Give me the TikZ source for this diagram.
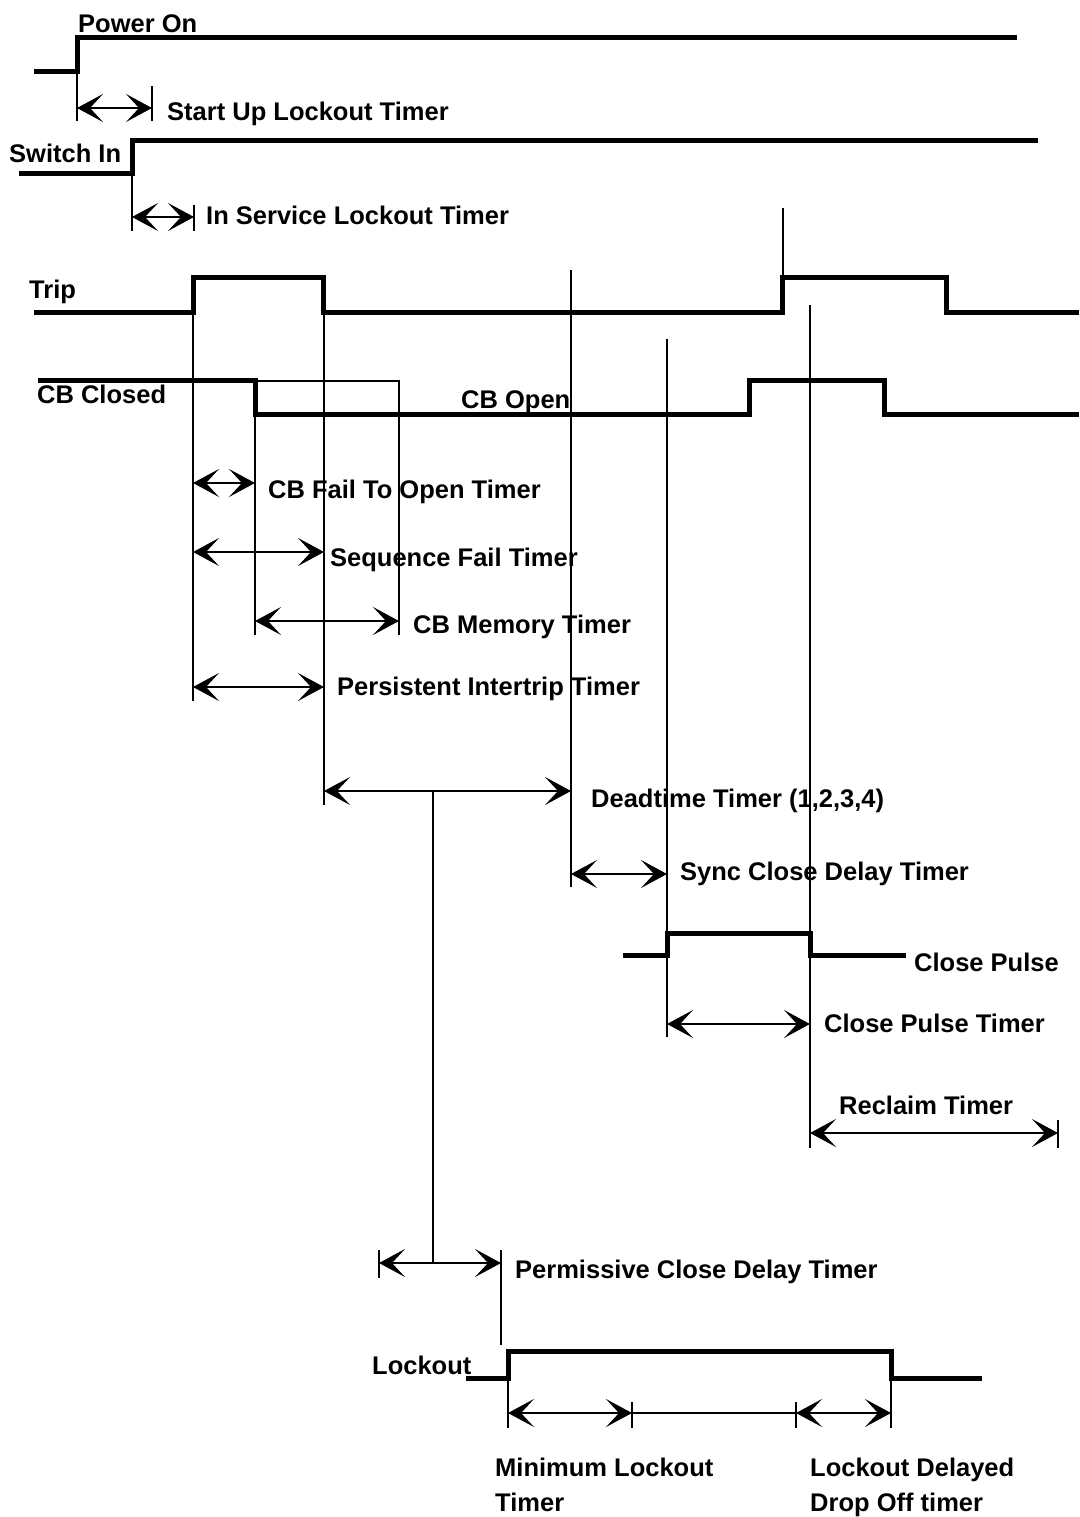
\documentclass[tikz,border=0pt]{standalone}
\usepackage{fontspec}
\setmainfont{Liberation Sans}
\usetikzlibrary{arrows.meta}
\begin{document}
\begin{tikzpicture}[x=1pt,y=-1pt,
  >={Stealth[length=26pt,width=28pt,inset=13pt]},
  sig/.style={line width=5pt},
  guide/.style={line width=1.3pt},
  dim/.style={line width=1.3pt,<->},
  lbl/.style={font=\fontsize{25.5}{30}\selectfont\bfseries, inner sep=0pt, anchor=base west}]
\useasboundingbox (0,0) rectangle (1079,1517);

% ---- signals ----
\draw[sig] (34,72) -- (77,72) -- (77,38) -- (1017,38);
\draw[sig] (19,174) -- (132,174) -- (132,141) -- (1038,141);
\draw[sig] (34,312) -- (193,312) -- (193,277) -- (323,277) -- (323,312) -- (782,312) -- (782,277) -- (946,277) -- (946,312) -- (1079,312);
\draw[sig] (38,380) -- (255,380) -- (255,414) -- (749,414) -- (749,380) -- (884,380) -- (884,414) -- (1079,414);
\draw[sig] (623,955) -- (667,955) -- (667,933) -- (810,933) -- (810,955) -- (906,955);
\draw[sig] (466,1378) -- (508,1378) -- (508,1351) -- (891,1351) -- (891,1378) -- (982,1378);

% ---- labels ----
\node[lbl] (pon) at (78,33) {Power On};
\node[lbl] (sul) at (167,121) {Start Up Lockout Timer};
\node[lbl] (swi) at (9,163) {Switch In};
\node[lbl] (isl) at (206,225) {In Service Lockout Timer};
\node[lbl] (trip) at (29,298) {Trip};
\node[lbl] (cbc) at (37,403) {CB Closed};
\node[lbl] (cbo) at (461,408) {CB Open};
\node[lbl] (cbf) at (268,498) {CB Fail To Open Timer};
\node[lbl] (seq) at (330,566) {Sequence Fail Timer};
\node[lbl] (cbm) at (413,633) {CB Memory Timer};
\node[lbl] (pit) at (337,695) {Persistent Intertrip Timer};
\node[lbl] (dtt) at (591,807) {Deadtime Timer (1,2,3,4)};
\node[lbl] (scd) at (680,880) {Sync Close Delay Timer};
\node[lbl] (cp) at (914,971) {Close Pulse};
\node[lbl] (cpt) at (824,1032) {Close Pulse Timer};
\node[lbl] (rcl) at (839,1114) {Reclaim Timer};
\node[lbl] (pcd) at (515,1278) {Permissive Close Delay Timer};
\node[lbl] (lko) at (372,1374) {Lockout};
\node[lbl] (mlt) at (495,1476) {Minimum Lockout};
\node[lbl] (mlt2) at (495,1511) {Timer};
\node[lbl] (ldd) at (810,1476) {Lockout Delayed};
\node[lbl] (ldd2) at (810,1511) {Drop Off timer};

% ---- guide lines ----
\draw[guide] (77,72) -- (77,121);
\draw[guide] (152,86) -- (152,121);
\draw[guide] (132,174) -- (132,231);
\draw[guide] (194,205) -- (194,231);
\draw[guide] (193,312) -- (193,701);
\draw[guide] (324,312) -- (324,805);
\draw[guide] (255,414) -- (255,635);
\draw[guide] (255,381) -- (399,381) -- (399,635);
\draw[guide] (571,270) -- (571,887);
\draw[guide] (667,339) -- (667,1037);
\draw[guide] (783,208) -- (783,277);
\draw[guide] (810,305) -- (810,1148);
\draw[guide] (433,791) -- (433,1263);
\draw[guide] (379,1250) -- (379,1278);
\draw[guide] (501,1250) -- (501,1345);
\draw[guide] (1058,1120) -- (1058,1148);
\draw[guide] (508,1378) -- (508,1428);
\draw[guide] (632,1402) -- (632,1428);
\draw[guide] (796,1402) -- (796,1428);
\draw[guide] (891,1378) -- (891,1428);

% ---- dimension arrows ----
\draw[dim] (77,108) -- (152,108);
\draw[dim] (132,217) -- (194,217);
\draw[dim] (193,483) -- (255,483);
\draw[dim] (193,552) -- (324,552);
\draw[dim] (255,621) -- (399,621);
\draw[dim] (193,687) -- (324,687);
\draw[dim] (324,791) -- (571,791);
\draw[dim] (571,874) -- (667,874);
\draw[dim] (667,1024) -- (810,1024);
\draw[dim] (810,1133) -- (1058,1133);
\draw[dim] (379,1263) -- (501,1263);
\draw[dim] (508,1413) -- (632,1413);
\draw[guide] (632,1413) -- (796,1413);
\draw[dim] (796,1413) -- (891,1413);
\end{tikzpicture}
\end{document}
